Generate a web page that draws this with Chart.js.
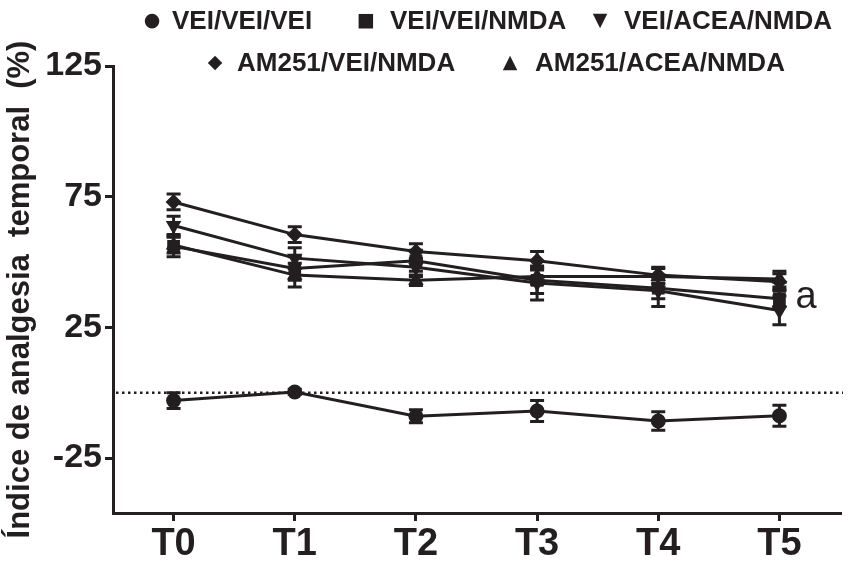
<!DOCTYPE html>
<html>
<head>
<meta charset="utf-8">
<script src="https://cdn.jsdelivr.net/npm/chart.js@4/dist/chart.umd.min.js"></script>
<style>
  html, body { margin: 0; padding: 0; background: #fff; }
  #wrap { position: relative; width: 853px; height: 564px; }
  #legend { position: absolute; left: 0; top: 0; width: 853px; height: 80px; color: #231f20;
    font: bold 26px 'Liberation Sans', Arial, sans-serif; }
  #legend .txt, #legend .mk { position: absolute; white-space: nowrap; line-height: 30px; }
  #legend .mk { font-family: 'DejaVu Sans'; font-size: 19px; transform: translateX(-50%); }
</style>
</head>
<body>
<div id="wrap">
  <canvas id="chart" width="853" height="564"></canvas>
  <div id="legend"></div>
</div>
<script>
// time points
const labels = ["T0", "T1", "T2", "T3", "T4", "T5"];
const seriesNames = ["VEI/VEI/VEI", "VEI/VEI/NMDA", "VEI/ACEA/NMDA", "AM251/VEI/NMDA", "AM251/ACEA/NMDA"];

// means and SEM
const veiVeiVei = [-3, 0.3, -9, -7, -10.8, -8.8];
const veiVeiVeiErr = [3, 1, 2.5, 4, 3.5, 4];
const veiVeiNmda = [56, 47.5, 50.5, 43, 40, 36];
const veiVeiNmdaErr = [4, 4.5, 4, 5, 4, 3];
const veiAceaNmda = [64, 51.5, 48, 42, 39, 31.5];
const veiAceaNmdaErr = [3.5, 4, 3.5, 6.5, 6, 5.5];
const am251VeiNmda = [73, 60.5, 54, 50.5, 45, 42.5];
const am251VeiNmdaErr = [3, 3, 3, 3.5, 3, 3];
const am251AceaNmda = [56.5, 45, 43, 44.5, 44.5, 43.5];
const am251AceaNmdaErr = [3, 4.5, 2, 3, 3, 3];

const yTicks = [-25, 25, 75, 125];
const yMin = -46;
const yMax = 125;
const sigLabel = "a";
const sigValue = 35.8;

const ink = "#231f20";
const fontFam = "'Liberation Sans', Arial, sans-serif";

const values = [veiVeiVei, veiVeiNmda, veiAceaNmda, am251VeiNmda, am251AceaNmda];
const errors = [veiVeiVeiErr, veiVeiNmdaErr, veiAceaNmdaErr, am251VeiNmdaErr, am251AceaNmdaErr];
const markers = [
  { style: "circle", rot: 0, r: 7.5, glyph: "●" },
  { style: "rect", rot: 0, r: 9, glyph: "■" },
  { style: "triangle", rot: 180, r: 9, glyph: "▼" },
  { style: "rectRot", rot: 0, r: 8, glyph: "◆" },
  { style: "triangle", rot: 0, r: 9, glyph: "▲" }
];
// legend placement: marker centre x, text left x, row top y
const legendSpots = [[152, 172, 5], [366, 390, 5], [600, 624, 5], [215, 237, 47], [510, 535, 47]];

const legend = document.getElementById("legend");
seriesNames.forEach((name, i) => {
  const [mx, tx, ty] = legendSpots[i];
  const mk = document.createElement("span");
  mk.className = "mk";
  mk.style.left = mx + "px";
  mk.style.top = (ty - 1) + "px";
  mk.textContent = markers[i].glyph;
  const txt = document.createElement("span");
  txt.className = "txt";
  txt.style.left = tx + "px";
  txt.style.top = ty + "px";
  txt.textContent = name;
  legend.appendChild(mk);
  legend.appendChild(txt);
});

const errorBars = {
  id: "errorBars",
  afterDatasetsDraw(chart) {
    const { ctx } = chart;
    const y = chart.scales.y;
    chart.data.datasets.forEach((ds, i) => {
      const meta = chart.getDatasetMeta(i);
      meta.data.forEach((pt, j) => {
        const top = y.getPixelForValue(ds.data[j] + ds.err[j]);
        const bot = y.getPixelForValue(ds.data[j] - ds.err[j]);
        ctx.save();
        ctx.strokeStyle = ink;
        ctx.lineWidth = 3;
        ctx.beginPath();
        ctx.moveTo(pt.x, top); ctx.lineTo(pt.x, bot);
        ctx.moveTo(pt.x - 7, top); ctx.lineTo(pt.x + 7, top);
        ctx.moveTo(pt.x - 7, bot); ctx.lineTo(pt.x + 7, bot);
        ctx.stroke();
        ctx.restore();
      });
    });
  }
};

const zeroLine = {
  id: "zeroLine",
  beforeDatasetsDraw(chart) {
    const { ctx, chartArea } = chart;
    const yy = chart.scales.y.getPixelForValue(0);
    ctx.save();
    ctx.strokeStyle = ink;
    ctx.lineWidth = 2.5;
    ctx.setLineDash([2.5, 3.5]);
    ctx.beginPath();
    ctx.moveTo(chartArea.left + 3, yy);
    ctx.lineTo(chartArea.right + 3, yy);
    ctx.stroke();
    ctx.restore();
  }
};

const sigMark = {
  id: "sigMark",
  afterDraw(chart) {
    const { ctx } = chart;
    const xx = chart.scales.x.getPixelForValue(labels.length - 1);
    const yy = chart.scales.y.getPixelForValue(sigValue);
    ctx.save();
    ctx.fillStyle = ink;
    ctx.font = "38px 'Liberation Sans', Arial, sans-serif";
    ctx.textBaseline = "middle";
    ctx.fillText(sigLabel, xx + 16, yy - 2);
    ctx.restore();
  }
};

new Chart(document.getElementById("chart"), {
  type: "line",
  data: {
    labels,
    datasets: values.map((v, i) => ({
      label: seriesNames[i],
      data: v,
      err: errors[i],
      borderColor: ink,
      backgroundColor: ink,
      borderWidth: 3,
      pointStyle: markers[i].style,
      pointRotation: markers[i].rot,
      pointRadius: markers[i].r,
      pointBorderWidth: 0,
      tension: 0
    }))
  },
  options: {
    responsive: false,
    animation: false,
    layout: { padding: { top: 66, right: 13, left: 0, bottom: 0 } },
    plugins: { legend: { display: false }, tooltip: { enabled: false } },
    scales: {
      x: {
        type: "category",
        offset: true,
        border: { display: true, color: ink, width: 3 },
        grid: { drawOnChartArea: false, drawTicks: true, tickLength: 8, color: ink, lineWidth: 3 },
        ticks: { color: ink, padding: 1, font: { family: fontFam, size: 38, weight: "bold" } },
        afterFit: s => { s.height = 51; }
      },
      y: {
        min: yMin,
        max: yMax,
        afterBuildTicks: s => { s.ticks = yTicks.map(v => ({ value: v })); },
        border: { display: true, color: ink, width: 3 },
        grid: { drawOnChartArea: false, drawTicks: true, tickLength: 8, color: ink, lineWidth: 3 },
        ticks: { color: ink, padding: 3, font: { family: fontFam, size: 34, weight: "bold" } },
        title: {
          display: true,
          text: "Índice de analgesia  temporal  (%)",
          color: ink,
          padding: { top: 2, bottom: 0 },
          font: { family: fontFam, size: 31, weight: "bold" }
        },
        afterFit: s => { s.width = 113; }
      }
    }
  },
  plugins: [zeroLine, errorBars, sigMark]
});
</script>
</body>
</html>
